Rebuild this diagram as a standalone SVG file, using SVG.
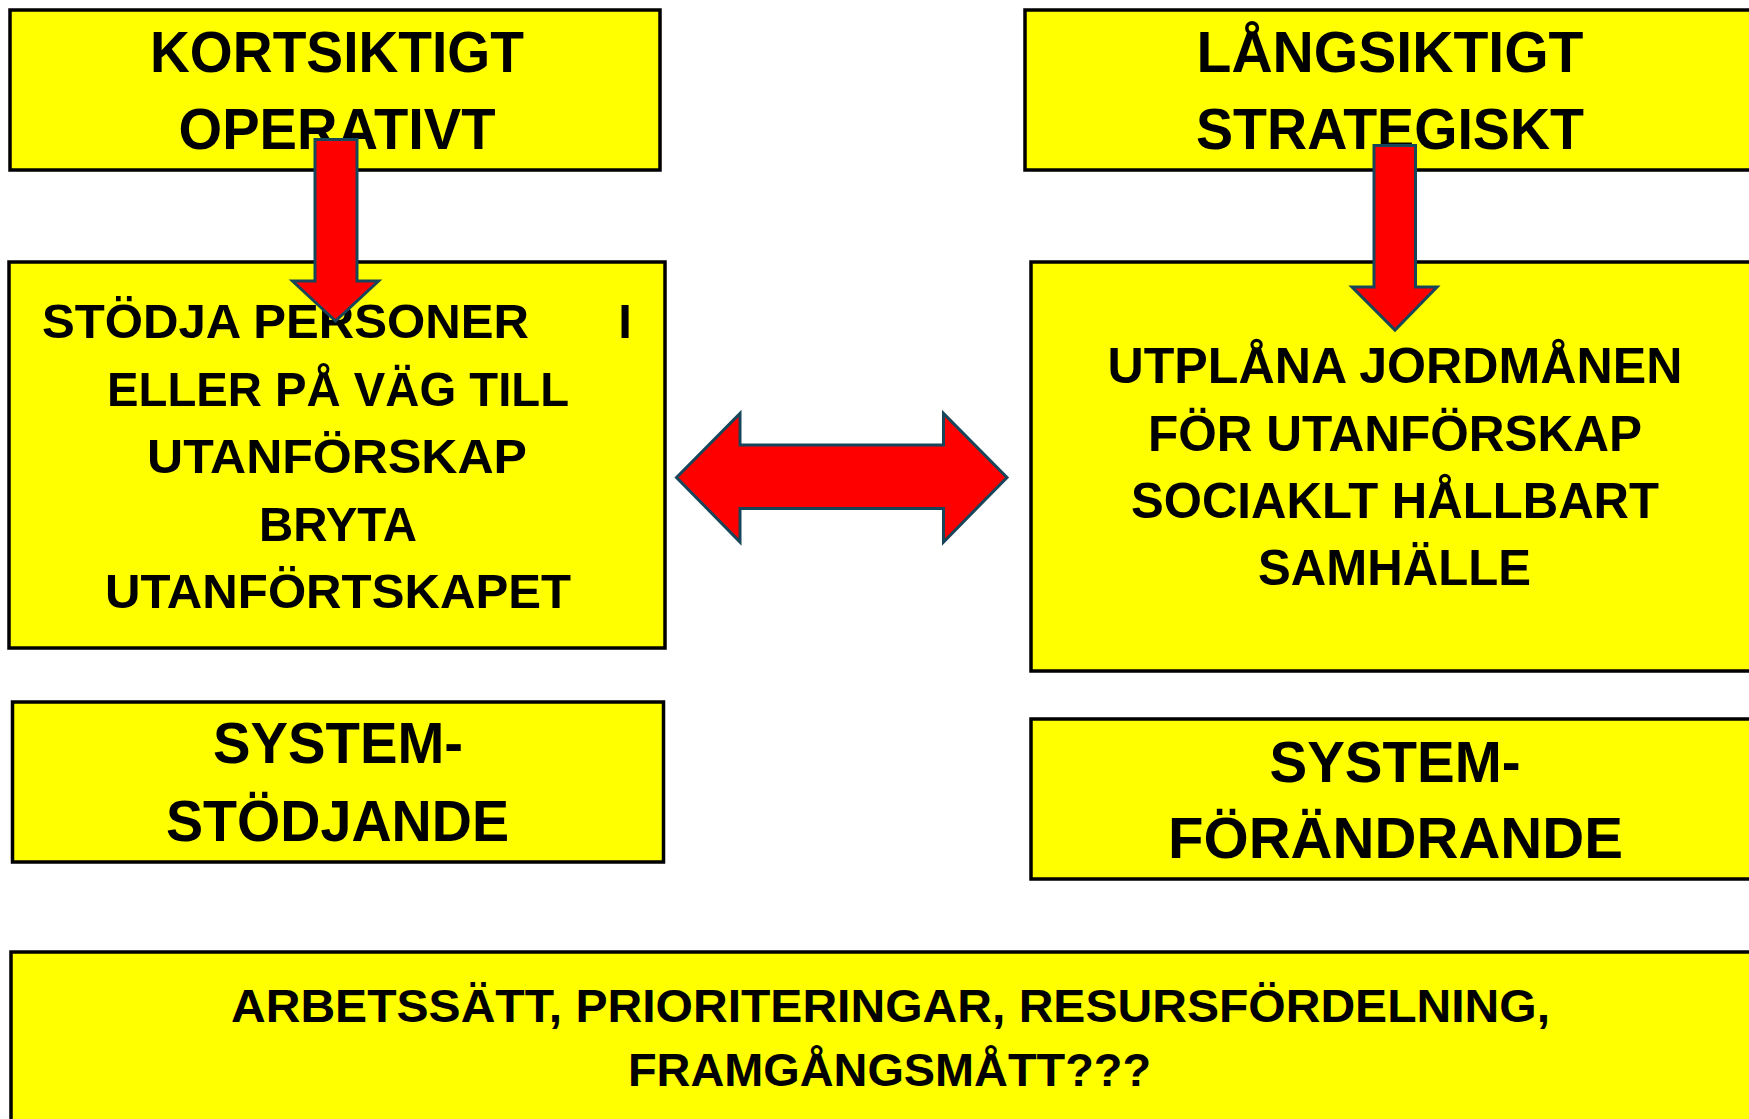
<svg xmlns="http://www.w3.org/2000/svg" width="1749" height="1119" viewBox="0 0 1749 1119">
<style>
.box{fill:#FFFF00;stroke:#000;stroke-width:3.5}
.t{font-family:"Liberation Sans",Arial,sans-serif;font-weight:bold;fill:#000;text-anchor:middle}
.arr{fill:#FF0000;stroke:#17465A;stroke-width:3;stroke-linejoin:miter}
</style>
<rect width="1749" height="1119" fill="#fff"/>
<g id="kortsiktigt">
<rect class="box" x="10" y="10" width="650" height="160"/>
<text class="t" x="337" y="72" font-size="58" textLength="374" lengthAdjust="spacingAndGlyphs">KORTSIKTIGT</text>
<text class="t" x="337" y="149" font-size="58" textLength="317" lengthAdjust="spacingAndGlyphs">OPERATIVT</text>
</g>
<g id="langsiktigt">
<rect class="box" x="1025" y="10" width="740" height="160"/>
<text class="t" x="1390" y="72" font-size="58" textLength="387" lengthAdjust="spacingAndGlyphs">LÅNGSIKTIGT</text>
<text class="t" x="1390" y="149" font-size="58" textLength="388" lengthAdjust="spacingAndGlyphs">STRATEGISKT</text>
</g>
<g id="stodja">
<rect class="box" x="9" y="262" width="656" height="386"/>
<text class="t" x="285.5" y="338" font-size="49" textLength="487" lengthAdjust="spacingAndGlyphs">STÖDJA PERSONER</text>
<text class="t" x="625" y="338" font-size="49">I</text>
<text class="t" x="338" y="406" font-size="49" textLength="462" lengthAdjust="spacingAndGlyphs">ELLER PÅ VÄG TILL</text>
<text class="t" x="337" y="473" font-size="49" textLength="380" lengthAdjust="spacingAndGlyphs">UTANFÖRSKAP</text>
<text class="t" x="338" y="541" font-size="49" textLength="158" lengthAdjust="spacingAndGlyphs">BRYTA</text>
<text class="t" x="338" y="608" font-size="49" textLength="466" lengthAdjust="spacingAndGlyphs">UTANFÖRTSKAPET</text>
</g>
<g id="utplana">
<rect class="box" x="1031" y="262" width="734" height="409"/>
<text class="t" x="1395" y="383" font-size="50" textLength="575" lengthAdjust="spacingAndGlyphs">UTPLÅNA JORDMÅNEN</text>
<text class="t" x="1395" y="451" font-size="50" textLength="494" lengthAdjust="spacingAndGlyphs">FÖR UTANFÖRSKAP</text>
<text class="t" x="1395" y="518" font-size="50" textLength="528" lengthAdjust="spacingAndGlyphs">SOCIAKLT HÅLLBART</text>
<text class="t" x="1394.5" y="585" font-size="50" textLength="273" lengthAdjust="spacingAndGlyphs">SAMHÄLLE</text>
</g>
<g id="systemstodjande">
<rect class="box" x="12.5" y="702" width="651" height="160"/>
<text class="t" x="338" y="763" font-size="58" textLength="250" lengthAdjust="spacingAndGlyphs">SYSTEM-</text>
<text class="t" x="337.5" y="841" font-size="58" textLength="343" lengthAdjust="spacingAndGlyphs">STÖDJANDE</text>
</g>
<g id="systemforandrande">
<rect class="box" x="1031" y="719" width="734" height="160"/>
<text class="t" x="1395" y="782" font-size="58" textLength="251" lengthAdjust="spacingAndGlyphs">SYSTEM-</text>
<text class="t" x="1395.5" y="858" font-size="58" textLength="455" lengthAdjust="spacingAndGlyphs">FÖRÄNDRANDE</text>
</g>
<g id="arbetssatt">
<rect class="box" x="11" y="952" width="1754" height="180"/>
<text class="t" x="890.5" y="1022" font-size="47" textLength="1319" lengthAdjust="spacingAndGlyphs">ARBETSSÄTT, PRIORITERINGAR, RESURSFÖRDELNING,</text>
<text class="t" x="889.5" y="1086" font-size="47" textLength="523" lengthAdjust="spacingAndGlyphs">FRAMGÅNGSMÅTT???</text>
</g>
<g id="connectors">
<polygon class="arr" points="315,139.5 357,139.5 357,281 378.5,281 335.5,321 292.5,281 315,281"/>
<polygon class="arr" points="1374,145.5 1415.5,145.5 1415.5,287 1437,287 1395,330 1352,287 1374,287"/>
<polygon class="arr" points="676.5,477.5 740,413.5 740,445 943.5,445 943.5,413.5 1007,477.5 943.5,542 943.5,508.5 740,508.5 740,542"/>
</g>
</svg>
